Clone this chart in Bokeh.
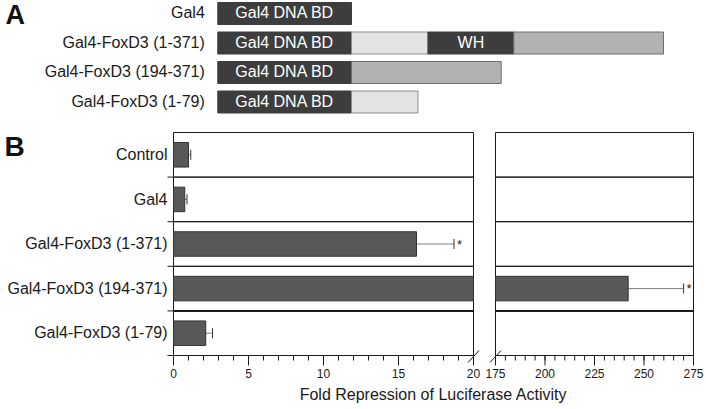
from bokeh.plotting import figure
from bokeh.models import Range1d, Whisker, TeeHead, ColumnDataSource
from bokeh.embed import file_html
from bokeh.resources import INLINE
from bokeh.core.properties import value

# ---------------- Panel A data (construct schematics) ----------------
constructs = ["Gal4", "Gal4-FoxD3 (1-371)", "Gal4-FoxD3 (194-371)", "Gal4-FoxD3 (1-79)"]
construct_first = [None, 1, 194, 1]     # first FoxD3 residue fused to Gal4 in each construct
gal4_bd_label = "Gal4 DNA BD"
gal4_bd_len = 159                       # schematic length of the Gal4 DNA-binding domain
# FoxD3 fragments: construct row, first residue, last residue, domain kind, label
seg_row = [1, 1, 1, 2, 3]
seg_first = [1, 92, 194, 194, 1]
seg_last = [91, 193, 371, 371, 79]
seg_kind = ["N", "WH", "C", "C", "N"]
seg_text = ["", "WH", "", "", ""]

# ---------------- Panel B data (fold repression) ----------------
categories = ["Control", "Gal4", "Gal4-FoxD3 (1-371)", "Gal4-FoxD3 (194-371)", "Gal4-FoxD3 (1-79)"]
fold = [1.0, 0.75, 16.2, 242.0, 2.15]
err = [0.15, 0.15, 2.5, 28.0, 0.45]
significant = [False, False, True, True, False]
left_max = 20
right_min, right_max = 175, 275
left_major = [0, 5, 10, 15, 20]
left_minor = list(range(0, 21))
right_major = [175, 200, 225, 250, 275]
right_minor = list(range(175, 276, 5))
x_title = "Fold Repression of Luciferase Activity"

# ---------------- layout / style constants ----------------
W, H = 706, 409
FONT = "Liberation Sans"
TXT = "#1a1a1a"
DARK = "#3d3d3d"
kind_fill = {"N": "#e3e3e3", "WH": DARK, "C": "#b2b2b2"}
kind_line = {"N": "#8c8c8c", "WH": DARK, "C": "#6e6e6e"}
BAR_FILL, BAR_LINE = "#585858", "#333333"

A_RES0_PX, A_PX_PER_RES = 351, 0.841      # end of Gal4 BD, px per residue
A_ROW0_PX, A_ROW_PX = 13, 29.5
B_ZERO_PX, B_PX_PER_UNIT = 173, 15.0      # left panel
B_BREAK_PX, B_R_PX_PER_UNIT = 495, 1.98   # right panel
B_TOP_PX, B_ROW_PX = 132, 44.6
MAJOR_TICK_PX, MINOR_TICK_PX, CAT_TICK_PX = 10, 5, 6


def lift(size):
    """baseline correction (px) for text of a given size"""
    return 0.3 * size + 2


def lin_range(v_at, px_at, px_per_unit, size, flip=False):
    if flip:   # pixels counted from the top, values grow downward
        return Range1d(start=v_at + (size - px_at) / px_per_unit, end=v_at - px_at / px_per_unit)
    return Range1d(start=v_at - px_at / px_per_unit, end=v_at + (size - px_at) / px_per_unit)


xB = lin_range(0, B_ZERO_PX, B_PX_PER_UNIT, W)
xR = lin_range(right_min, B_BREAK_PX, B_R_PX_PER_UNIT, W)
yB = lin_range(-0.5, B_TOP_PX, B_ROW_PX, H, flip=True)
xA = lin_range(0, A_RES0_PX, A_PX_PER_RES, W)
yA = lin_range(0, A_ROW0_PX, A_ROW_PX, H, flip=True)

p = figure(width=W, height=H, x_range=xB, y_range=yB, min_border=0,
           x_axis_location=None, y_axis_location=None,
           output_backend="svg", toolbar_location=None, outline_line_color=None)
p.extra_x_ranges = {"A": xA, "R": xR}
p.extra_y_ranges = {"A": yA}
for g in p.grid:
    g.visible = False


def txt(size, dy, **kw):
    base = dict(text_font=value(FONT), text_color=TXT, text_baseline="alphabetic",
                text_font_size=f"{size}px", y_offset=dy - lift(size))
    base.update(kw)
    return p.text(**base)


# ======================= Panel A =======================
rows_a = list(range(len(constructs)))
bar_h_a = 22 / A_ROW_PX
A = dict(x_range_name="A", y_range_name="A")
p.hbar(y=rows_a, left=-gal4_bd_len, right=0, height=bar_h_a,
       fill_color=DARK, line_color=DARK, **A)
txt(16, 6, x=[-gal4_bd_len / 2] * len(rows_a), y=rows_a,
    text=[gal4_bd_label] * len(rows_a), text_color="white", text_align="center", **A)

seg_left = [f - construct_first[r] for f, r in zip(seg_first, seg_row)]
seg_right = [l - construct_first[r] + 1 for l, r in zip(seg_last, seg_row)]
seg_src = ColumnDataSource(dict(
    y=seg_row, left=seg_left, right=seg_right,
    mid=[(a + b) / 2 for a, b in zip(seg_left, seg_right)],
    fill=[kind_fill[k] for k in seg_kind],
    line=[kind_line[k] for k in seg_kind],
    text=seg_text,
))
p.hbar(y="y", left="left", right="right", height=bar_h_a, fill_color="fill",
       line_color="line", source=seg_src, **A)
txt(16, 6, x="mid", y="y", text="text", text_color="white", text_align="center",
    source=seg_src, **A)

txt(16, 6, x=[-gal4_bd_len] * len(rows_a), y=rows_a, text=constructs,
    text_align="right", x_offset=-13, **A)
txt(27, 12, x=[xA.start], y=[0], text=["A"], x_offset=5,
    text_font_style="bold", text_color="#111111", **A)

# ======================= Panel B =======================
n = len(categories)
idx = list(range(n))
base = n - 0.5                 # bottom edge of the last row (value axis line)

# row cells: panel borders and dividers
p.hbar(y=idx, left=0, right=left_max, height=1, fill_color=None,
       line_color=TXT, line_width=1)
p.hbar(y=idx, left=right_min, right=right_max, height=1, fill_color=None,
       line_color=TXT, line_width=1, x_range_name="R")
# heavier divider above the last construct
p.hbar(y=[n - 1.5], left=0, right=left_max, height=0, line_color=TXT, line_width=2)
p.hbar(y=[n - 1.5], left=right_min, right=right_max, height=0, line_color=TXT,
       line_width=2, x_range_name="R")
# boundary ticks left of the category axis
bounds = [i + 0.5 for i in idx]
p.segment(x0=[-CAT_TICK_PX / B_PX_PER_UNIT] * n, y0=bounds, x1=[0] * n, y1=bounds,
          line_color=TXT, line_width=1)

# bars (left panel cut at the axis break)
bar_h_b = 0.55
p.hbar(y=idx, left=0, right=[min(v, left_max) for v in fold], height=bar_h_b,
       fill_color=BAR_FILL, line_color=BAR_LINE)
hi = [i for i in idx if fold[i] > right_min]
p.hbar(y=hi, left=right_min, right=[fold[i] for i in hi], height=bar_h_b,
       fill_color=BAR_FILL, line_color=BAR_LINE, x_range_name="R")


def add_errors(rows, range_name):
    src = ColumnDataSource(dict(base=rows, lower=[fold[i] for i in rows],
                                upper=[fold[i] + err[i] for i in rows]))
    p.add_layout(Whisker(source=src, base="base", lower="lower", upper="upper",
                         dimension="width", lower_head=None,
                         upper_head=TeeHead(size=10, line_color="#333333", line_width=1),
                         line_color="#808080", line_width=1, x_range_name=range_name))
    stars = [i for i in rows if significant[i]]
    txt(13, 6, x=[fold[i] + err[i] for i in stars], y=stars, text=["*"] * len(stars),
        x_offset=3, x_range_name=range_name)


add_errors([i for i in idx if fold[i] + err[i] <= left_max], "default")
add_errors(hi, "R")

# value-axis ticks
maj_len = MAJOR_TICK_PX / B_ROW_PX
min_len = MINOR_TICK_PX / B_ROW_PX
p.segment(x0=left_minor, y0=[base] * len(left_minor), x1=left_minor,
          y1=[base + min_len] * len(left_minor), line_color=TXT)
p.segment(x0=left_major, y0=[base] * len(left_major), x1=left_major,
          y1=[base + maj_len] * len(left_major), line_color=TXT)
p.segment(x0=right_minor, y0=[base] * len(right_minor), x1=right_minor,
          y1=[base + min_len] * len(right_minor), line_color=TXT, x_range_name="R")
p.segment(x0=right_major, y0=[base] * len(right_major), x1=right_major,
          y1=[base + maj_len] * len(right_major), line_color=TXT, x_range_name="R")

# tick labels
txt(12, 23.5, x=left_major, y=[base] * len(left_major), text=[str(v) for v in left_major],
    text_align="center")
txt(12, 23.5, x=right_major, y=[base] * len(right_major),
    text=[str(v) for v in right_major], text_align="center", x_range_name="R")

# axis-break marks
sx, sy = 5.5, 6.0
p.segment(x0=[left_max - sx / B_PX_PER_UNIT], y0=[base + (sy + 1) / B_ROW_PX],
          x1=[left_max + sx / B_PX_PER_UNIT], y1=[base - (sy - 1) / B_ROW_PX],
          line_color=TXT, line_width=1)
p.segment(x0=[right_min - sx / B_R_PX_PER_UNIT], y0=[base + (sy + 1) / B_ROW_PX],
          x1=[right_min + sx / B_R_PX_PER_UNIT], y1=[base - (sy - 1) / B_ROW_PX],
          line_color=TXT, line_width=1, x_range_name="R")

# value-axis title, centred under both panels
right_end_in_left_units = (B_BREAK_PX + (right_max - right_min) * B_R_PX_PER_UNIT
                           - B_ZERO_PX) / B_PX_PER_UNIT
txt(16, 45.5, x=[right_end_in_left_units / 2], y=[base], text=[x_title], text_align="center")

# category labels
txt(16, 6.5, x=[0] * n, y=idx, text=categories, text_align="right", x_offset=-6)
txt(28, 2.5, x=[xB.start], y=[0], text=["B"], x_offset=4,
    text_font_style="bold", text_color="#111111")

open("out.html", "w").write(file_html(p, INLINE))
